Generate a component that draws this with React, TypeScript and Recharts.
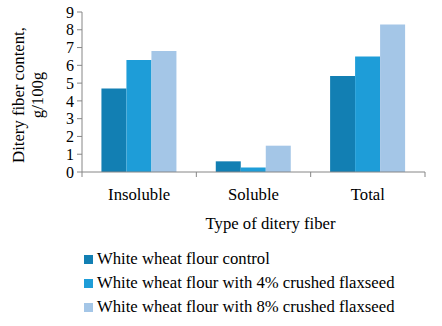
import { BarChart, Bar, XAxis, YAxis, Legend } from "recharts";

const categories = ["Insoluble", "Soluble", "Total"];
const controlValues = [4.7, 0.6, 5.4];
const flax4Values = [6.3, 0.26, 6.5];
const flax8Values = [6.8, 1.48, 8.3];
const yTicks = [0, 1, 2, 3, 4, 5, 6, 7, 8, 9];

const seriesNames = [
  "White wheat flour control",
  "White wheat flour with 4% crushed flaxseed",
  "White wheat flour with 8% crushed flaxseed",
];
const COLORS = ["#127fb3", "#1e9dd8", "#a4c6e7"];

const W = 442;
const H = 326;
const MARGIN = { top: 12, right: 17, left: 0, bottom: 0 };
const Y_WIDTH = 82;
const FONT = "Liberation Serif";
const AXIS = "#868686";

const data = categories.map((c, i) => ({
  name: c,
  control: controlValues[i],
  flax4: flax4Values[i],
  flax8: flax8Values[i],
}));

// band width of the category axis, used to put tick marks on category edges
const band = (W - MARGIN.left - MARGIN.right - Y_WIDTH) / categories.length;

function XTick(props: any) {
  const { x, y, payload, index } = props;
  const left = x - band / 2;
  return (
    <g>
      <line x1={left} y1={y} x2={left} y2={y + 5} stroke={AXIS} />
      {index === categories.length - 1 && (
        <line x1={x + band / 2} y1={y} x2={x + band / 2} y2={y + 5} stroke={AXIS} />
      )}
      <text
        x={x}
        y={y + 28}
        textAnchor="middle"
        fontFamily={FONT}
        fontSize={16.7}
        fill="#000"
      >
        {payload.value}
      </text>
    </g>
  );
}

function LegendBox({ payload }: any) {
  return (
    <div style={{ height: 82, paddingLeft: 84, paddingTop: 3, boxSizing: "border-box" }}>
      {(payload || []).map((p: any) => (
        <div
          key={p.value}
          style={{
            display: "flex",
            alignItems: "center",
            height: 24,
            fontFamily: FONT,
            fontSize: 16.7,
            color: "#000",
          }}
        >
          <span
            style={{ width: 9, height: 9, background: p.color, marginRight: 4, display: "inline-block" }}
          />
          {p.value}
        </div>
      ))}
    </div>
  );
}

export default function App() {
  return (
    <div style={{ position: "absolute", left: 0, top: 0, width: W, height: H, background: "#fff", fontFamily: FONT }}>
      <BarChart width={W} height={H} data={data} margin={MARGIN} barCategoryGap="17%" barGap={0}>
        <XAxis
          dataKey="name"
          height={72}
          stroke={AXIS}
          tickLine={false}
          tickSize={0}
          tickMargin={0}
          tick={<XTick />}
          interval={0}
          label={{
            content: ({ viewBox }: any) => (
              <text
                x={viewBox.x + viewBox.width / 2 + 17}
                y={viewBox.y + 57}
                textAnchor="middle"
                fontFamily={FONT}
                fontSize={16.7}
                fill="#000"
              >
                Type of ditery fiber
              </text>
            ),
          }}
        />
        <YAxis
          width={Y_WIDTH}
          domain={[0, 9]}
          ticks={yTicks}
          interval={0}
          stroke={AXIS}
          tickSize={5}
          tickMargin={3}
          tick={{ fill: "#000", fontFamily: FONT, fontSize: 16 }}
          label={{
            content: ({ viewBox }: any) => {
              const cy = viewBox.y + viewBox.height / 2 + 3;
              return (
                <text
                  transform={`rotate(-90, 0, ${cy})`}
                  x={0}
                  y={cy}
                  textAnchor="middle"
                  fontFamily={FONT}
                  fontSize={16.7}
                  fill="#000"
                >
                  <tspan x={0} y={cy + 24}>Ditery fiber content,</tspan>
                  <tspan x={0} y={cy + 43}>g/100g</tspan>
                </text>
              );
            },
          }}
        />
        <Legend verticalAlign="bottom" align="left" content={<LegendBox />} />
        <Bar dataKey="control" name={seriesNames[0]} fill={COLORS[0]} isAnimationActive={false} />
        <Bar dataKey="flax4" name={seriesNames[1]} fill={COLORS[1]} isAnimationActive={false} />
        <Bar dataKey="flax8" name={seriesNames[2]} fill={COLORS[2]} isAnimationActive={false} />
      </BarChart>
    </div>
  );
}
